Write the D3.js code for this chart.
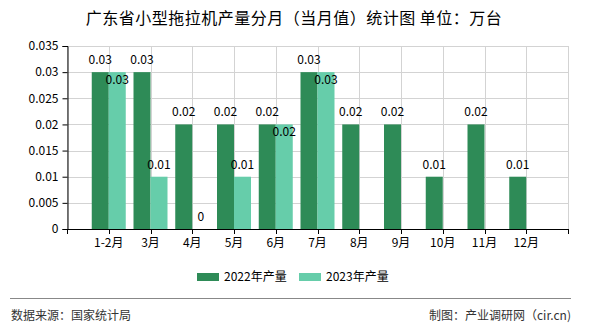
<!DOCTYPE html>
<html>
<head>
<meta charset="utf-8">
<script src="https://cdn.jsdelivr.net/npm/d3@7"></script>
<style>
  html, body { margin: 0; padding: 0; background: #fff; }
  svg { display: block; font-family: "Noto Sans CJK SC", "Noto Sans", sans-serif; }
</style>
</head>
<body>
<svg id="chart" width="590" height="330"></svg>
<script>
const categories = ["1-2月", "3月", "4月", "5月", "6月", "7月", "8月", "9月", "10月", "11月", "12月"];
const seriesNames = ["2022年产量", "2023年产量"];
const values2022 = [0.03, 0.03, 0.02, 0.02, 0.02, 0.03, 0.02, 0.02, 0.01, 0.02, 0.01];
const values2023 = [0.03, 0.01, 0, 0.01, 0.02, 0.03, null, null, null, null, null];
const yTicks = [0, 0.005, 0.01, 0.015, 0.02, 0.025, 0.03, 0.035];
const yTickLabels = ["0", "0.005", "0.01", "0.015", "0.02", "0.025", "0.03", "0.035"];
const colors = ["#2e8b57", "#66cdaa"];
const title = "广东省小型拖拉机产量分月（当月值）统计图 单位：万台";
const sourceText = "数据来源：国家统计局";
const creditText = "制图：产业调研网（cir.cn)";

const svg = d3.select("#chart");
const pLeft = 67, pRight = 568, pTop = 46, pBottom = 229;

const x = d3.scalePoint().domain(categories).range([pLeft, pRight]).padding(1);
const y = d3.scaleLinear().domain([0, 0.035]).range([pBottom, pTop]);
const barW = 17;

// title
svg.append("text").attr("x", 294).attr("y", 24).attr("text-anchor", "middle")
  .attr("font-size", 16).attr("letter-spacing", 0.5).attr("fill", "#000").text(title);

// grid
const g = svg.append("g");
g.selectAll(".hg").data(yTicks.slice(1)).join("line")
  .attr("x1", pLeft).attr("x2", pRight).attr("y1", d => Math.round(y(d)) + 0.5).attr("y2", d => Math.round(y(d)) + 0.5)
  .attr("stroke", "#d3d3d3").attr("stroke-width", 1);
const vgrid = [pLeft, ...categories.map(c => x(c)), pRight];
g.selectAll(".vg").data(vgrid).join("line")
  .attr("x1", d => Math.round(d) + 0.5).attr("x2", d => Math.round(d) + 0.5).attr("y1", pTop).attr("y2", pBottom)
  .attr("stroke", "#d3d3d3").attr("stroke-width", 1);

// bars
const series = [values2022, values2023];
series.forEach((vals, si) => {
  const data = categories.map((c, i) => ({ c, v: vals[i], i })).filter(d => d.v !== null);
  svg.append("g").selectAll("rect").data(data).join("rect")
    .attr("x", d => x(d.c) + (si === 0 ? -barW : 0))
    .attr("y", d => y(d.v))
    .attr("width", barW)
    .attr("height", d => pBottom - y(d.v))
    .attr("fill", colors[si]);
});

// axes
const yAxis = d3.axisLeft(y).tickValues(yTicks).tickFormat((d, i) => yTickLabels[i]).tickSize(5).tickPadding(4);
const ya = svg.append("g").attr("transform", `translate(${pLeft + 0.5},0)`).call(yAxis);
ya.select(".domain").attr("stroke", "#000");
ya.selectAll(".tick line").attr("stroke", "#000");
ya.selectAll("text").attr("font-size", 12).attr("fill", "#000").attr("font-family", "\"Noto Sans CJK SC\", sans-serif");

svg.append("line").attr("x1", pLeft).attr("x2", pRight + 1).attr("y1", pBottom + 0.5).attr("y2", pBottom + 0.5)
  .attr("stroke", "#000");
svg.append("g").selectAll("line").data(vgrid).join("line")
  .attr("x1", d => Math.round(d) + 0.5).attr("x2", d => Math.round(d) + 0.5).attr("y1", pBottom).attr("y2", pBottom + 5)
  .attr("stroke", "#000");
svg.append("g").selectAll("text").data(categories).join("text")
  .attr("x", d => x(d)).attr("y", pBottom + 18).attr("text-anchor", "middle")
  .attr("font-size", 12).attr("fill", "#000").text(d => d);

// value labels
const fmt = v => String(v);
svg.append("g").selectAll("text").data(categories.map((c, i) => ({ c, v: values2022[i] })))
  .join("text")
  .attr("x", d => x(d.c) - barW / 2).attr("y", d => y(d.v) - 8)
  .attr("text-anchor", "middle").attr("font-size", 12).attr("fill", "#000")
  .text(d => fmt(d.v));
svg.append("g").selectAll("text")
  .data(categories.map((c, i) => ({ c, v: values2023[i], o: values2022[i] })).filter(d => d.v !== null))
  .join("text")
  .attr("x", d => x(d.c) + barW / 2).attr("y", d => d.v === d.o ? y(d.v) + 12 : y(d.v) - 8)
  .attr("text-anchor", "middle").attr("font-size", 12).attr("fill", "#000")
  .text(d => fmt(d.v));

// legend
const legendX = [197, 299];
seriesNames.forEach((n, i) => {
  svg.append("rect").attr("x", legendX[i]).attr("y", 273).attr("width", 22).attr("height", 8).attr("fill", colors[i]);
  svg.append("text").attr("x", legendX[i] + 27).attr("y", 281).attr("font-size", 12).attr("fill", "#000").text(n);
});

// footer
svg.append("line").attr("x1", 10).attr("x2", 571).attr("y1", 298.5).attr("y2", 298.5).attr("stroke", "#888").attr("stroke-width", 1);
svg.append("text").attr("x", 11).attr("y", 320).attr("font-size", 12).attr("fill", "#333").text(sourceText);
svg.append("text").attr("x", 571).attr("y", 320).attr("text-anchor", "end").attr("font-size", 12).attr("fill", "#333").text(creditText);
</script>
</body>
</html>
